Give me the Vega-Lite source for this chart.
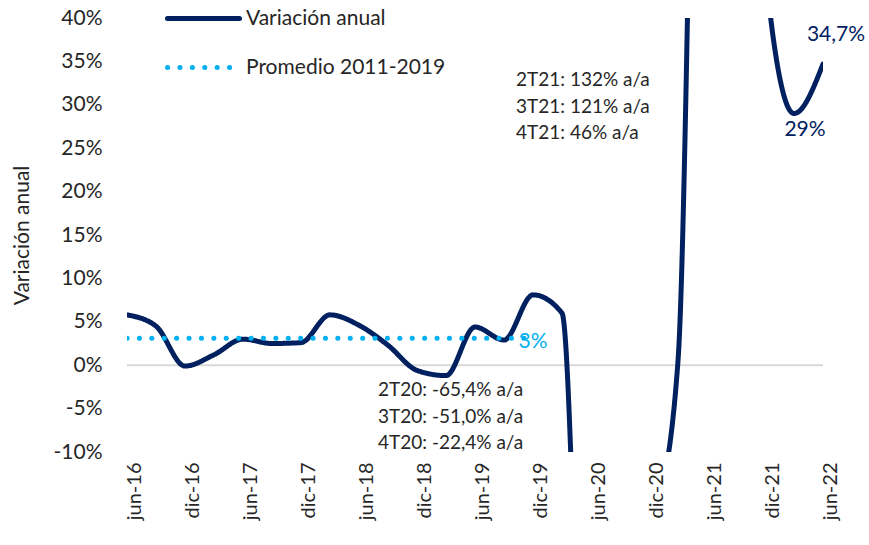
{
  "$schema": "https://vega.github.io/schema/vega-lite/v6.json",
  "width": 696,
  "height": 434,
  "autosize": {"type": "none"},
  "padding": {"left": 127, "top": 18, "right": 46, "bottom": 93},
  "background": "white",
  "config": {
    "view": {"stroke": null},
    "font": "Lato",
    "axis": {"grid": false, "domain": false, "ticks": false}
  },
  "datasets": {
    "lineas": [
      {"q": "jun-16", "v": 5.8, "serie": "Variación anual"},
      {"q": "sep-16", "v": 4.5, "serie": "Variación anual"},
      {"q": "dic-16", "v": -0.1, "serie": "Variación anual"},
      {"q": "mar-17", "v": 1.2, "serie": "Variación anual"},
      {"q": "jun-17", "v": 3.0, "serie": "Variación anual"},
      {"q": "sep-17", "v": 2.5, "serie": "Variación anual"},
      {"q": "dic-17", "v": 2.6, "serie": "Variación anual"},
      {"q": "mar-18", "v": 5.8, "serie": "Variación anual"},
      {"q": "jun-18", "v": 4.6, "serie": "Variación anual"},
      {"q": "sep-18", "v": 2.3, "serie": "Variación anual"},
      {"q": "dic-18", "v": -0.6, "serie": "Variación anual"},
      {"q": "mar-19", "v": -1.2, "serie": "Variación anual"},
      {"q": "jun-19", "v": 4.4, "serie": "Variación anual"},
      {"q": "sep-19", "v": 2.9, "serie": "Variación anual"},
      {"q": "dic-19", "v": 8.1, "serie": "Variación anual"},
      {"q": "mar-20", "v": 6.0, "serie": "Variación anual"},
      {"q": "jun-20", "v": -65.4, "serie": "Variación anual"},
      {"q": "sep-20", "v": -51.0, "serie": "Variación anual"},
      {"q": "dic-20", "v": -22.4, "serie": "Variación anual"},
      {"q": "mar-21", "v": 0.5, "serie": "Variación anual"},
      {"q": "jun-21", "v": 132, "serie": "Variación anual"},
      {"q": "sep-21", "v": 121, "serie": "Variación anual"},
      {"q": "dic-21", "v": 46, "serie": "Variación anual"},
      {"q": "mar-22", "v": 29, "serie": "Variación anual"},
      {"q": "jun-22", "v": 34.7, "serie": "Variación anual"},
      {"q": "jun-16", "v": 3.1, "serie": "Promedio 2011-2019"},
      {"q": "sep-16", "v": 3.1, "serie": "Promedio 2011-2019"},
      {"q": "dic-16", "v": 3.1, "serie": "Promedio 2011-2019"},
      {"q": "mar-17", "v": 3.1, "serie": "Promedio 2011-2019"},
      {"q": "jun-17", "v": 3.1, "serie": "Promedio 2011-2019"},
      {"q": "sep-17", "v": 3.1, "serie": "Promedio 2011-2019"},
      {"q": "dic-17", "v": 3.1, "serie": "Promedio 2011-2019"},
      {"q": "mar-18", "v": 3.1, "serie": "Promedio 2011-2019"},
      {"q": "jun-18", "v": 3.1, "serie": "Promedio 2011-2019"},
      {"q": "sep-18", "v": 3.1, "serie": "Promedio 2011-2019"},
      {"q": "dic-18", "v": 3.1, "serie": "Promedio 2011-2019"},
      {"q": "mar-19", "v": 3.1, "serie": "Promedio 2011-2019"},
      {"q": "jun-19", "v": 3.1, "serie": "Promedio 2011-2019"},
      {"q": "sep-19", "v": 3.1, "serie": "Promedio 2011-2019"},
      {"q": "dic-19", "v": 3.1, "serie": "Promedio 2011-2019"}
    ]
  },
  "encoding": {
    "x": {
      "field": "q",
      "type": "ordinal",
      "sort": null,
      "scale": {
        "type": "point",
        "padding": 0,
        "domain": ["jun-16", "sep-16", "dic-16", "mar-17", "jun-17", "sep-17", "dic-17", "mar-18", "jun-18", "sep-18", "dic-18", "mar-19", "jun-19", "sep-19", "dic-19", "mar-20", "jun-20", "sep-20", "dic-20", "mar-21", "jun-21", "sep-21", "dic-21", "mar-22", "jun-22"]
      },
      "axis": {
        "title": null,
        "labelAngle": -90,
        "labelAlign": "right",
        "labelBaseline": "middle",
        "labelPadding": 10,
        "labelOffset": 7,
        "labelFontSize": 20,
        "labelColor": "#262626",
        "labelOverlap": false,
        "labelExpr": "(indexof(datum.label,'jun')==0 || indexof(datum.label,'dic')==0) ? datum.label : ''"
      }
    },
    "y": {
      "field": "v",
      "type": "quantitative",
      "scale": {"domain": [-10, 40], "nice": false, "zero": false},
      "axis": {
        "values": [-10, -5, 0, 5, 10, 15, 20, 25, 30, 35, 40],
        "labelExpr": "datum.value + '%'",
        "labelFontSize": 21,
        "labelColor": "#262626",
        "labelPadding": 25,
        "title": "Variación anual",
        "titleFontSize": 21,
        "titleFontWeight": "normal",
        "titleColor": "#262626",
        "titleX": -105,
        "titleBaseline": "middle"
      }
    }
  },
  "layer": [
    {
      "data": {"values": [{"z": 0}]},
      "mark": {"type": "rule", "color": "#d9d9d9", "strokeWidth": 2},
      "encoding": {"x": null, "y": {"field": "z", "type": "quantitative"}}
    },
    {
      "data": {"name": "lineas"},
      "mark": {"type": "line", "interpolate": "monotone", "strokeWidth": 5, "strokeCap": "round", "clip": true},
      "encoding": {
        "color": {
          "field": "serie",
          "type": "nominal",
          "scale": {"domain": ["Variación anual", "Promedio 2011-2019"], "range": ["#002060", "#00b0f0"]},
          "legend": {
            "orient": "none",
            "legendX": 38,
            "legendY": -38,
            "title": null,
            "symbolType": "stroke",
            "symbolSize": 5184,
            "symbolStrokeWidth": 5,
            "labelFontSize": 21,
            "labelColor": "#262626",
            "labelOffset": 4,
            "labelLimit": 0,
            "rowPadding": -12,
            "padding": 0,
            "symbolOffset": 0,
            "encode": {"symbols": {"update": {"strokeCap": {"value": "round"}}}}
          }
        },
        "strokeDash": {
          "field": "serie",
          "type": "nominal",
          "scale": {"domain": ["Variación anual", "Promedio 2011-2019"], "range": [[1, 0], [0.1, 12.3]]},
          "legend": null
        }
      }
    },
    {
      "data": {"values": [{"q": "dic-19", "v": 2.7, "t": "3%"}]},
      "mark": {"type": "text", "color": "#00b0f0", "fontSize": 21, "align": "center", "baseline": "middle"},
      "encoding": {"text": {"field": "t"}}
    },
    {
      "data": {"values": [
        {"q": "sep-18", "v": -2.9, "t": "2T20: -65,4% a/a"},
        {"q": "sep-18", "v": -6.0, "t": "3T20: -51,0% a/a"},
        {"q": "sep-18", "v": -9.0, "t": "4T20: -22,4% a/a"}
      ]},
      "mark": {"type": "text", "color": "#262626", "fontSize": 19, "align": "left", "baseline": "middle", "dx": -10},
      "encoding": {"text": {"field": "t"}}
    },
    {
      "data": {"values": [
        {"q": "dic-19", "v": 32.8, "t": "2T21: 132% a/a"},
        {"q": "dic-19", "v": 29.7, "t": "3T21: 121% a/a"},
        {"q": "dic-19", "v": 26.7, "t": "4T21: 46% a/a"}
      ]},
      "mark": {"type": "text", "color": "#262626", "fontSize": 19, "align": "left", "baseline": "middle", "dx": -17},
      "encoding": {"text": {"field": "t"}}
    },
    {
      "data": {"values": [
        {"q": "jun-22", "v": 38.0, "t": "34,7%"}
      ]},
      "mark": {"type": "text", "color": "#002060", "fontSize": 21, "align": "center", "baseline": "middle", "dx": 13},
      "encoding": {"text": {"field": "t"}}
    },
    {
      "data": {"values": [
        {"q": "mar-22", "v": 27.1, "t": "29%"}
      ]},
      "mark": {"type": "text", "color": "#002060", "fontSize": 21, "align": "center", "baseline": "middle", "dx": 11},
      "encoding": {"text": {"field": "t"}}
    }
  ]
}
